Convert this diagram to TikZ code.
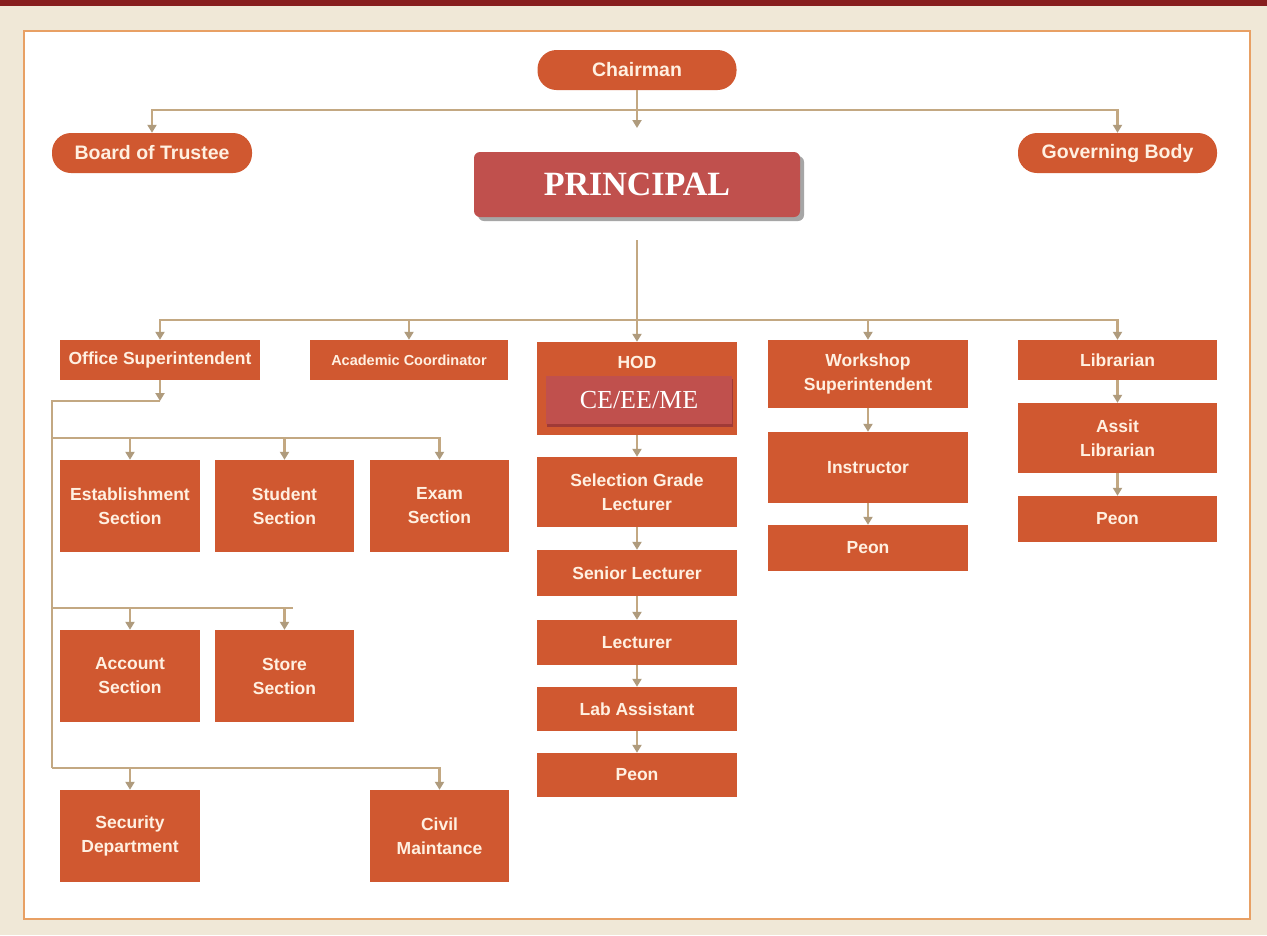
\documentclass[tikz,border=0pt]{standalone}
\usepackage{fontspec}
\setmainfont{Liberation Sans}
\newfontfamily\serifbf{Liberation Serif}
\usetikzlibrary{arrows.meta,shadows}
\definecolor{bgc}{RGB}{240,232,215}
\definecolor{topbar}{RGB}{135,30,30}
\definecolor{framec}{RGB}{232,160,100}
\definecolor{boxc}{RGB}{208,88,48}
\definecolor{txtc}{RGB}{255,240,225}
\definecolor{princ}{RGB}{192,80,77}
\definecolor{prinsh}{RGB}{160,58,55}
\definecolor{linec}{RGB}{195,168,130}
\definecolor{arrc}{RGB}{175,155,125}
\begin{document}
\begin{tikzpicture}[x=1pt,y=-1pt,
  box/.style={rectangle, fill=boxc, text=txtc, align=center, inner sep=0pt,
    font=\bfseries\fontsize{17.5}{24}\selectfont, minimum width=200pt},
  pill/.style={box, rounded corners=19pt, minimum height=40pt,
    font=\bfseries\fontsize{19.5}{22}\selectfont},
  conn/.style={draw=linec, line width=2.8pt},
  arr/.style={conn, -{Triangle[width=9pt,length=8pt,fill=arrc,color=arrc]}}
]
\useasboundingbox (0,0) rectangle (1267,935);
\fill[bgc] (0,0) rectangle (1267,935);
\fill[topbar] (0,0) rectangle (1267,6);
\draw[framec, line width=2.5pt, fill=white] (24,31) rectangle (1250,919);

% top level
\node[pill, minimum width=199pt] (chair) at (637,70) {Chairman};
\node[pill] (board) at (152,153) {Board of Trustee};
\node[pill, minimum width=199pt] (gov) at (1117.5,153) {Governing Body};
\node[rectangle, rounded corners=6pt, fill=princ, text=white, minimum width=326pt,
  minimum height=65pt, font=\serifbf\bfseries\fontsize{34}{36}\selectfont,
  drop shadow={shadow xshift=4pt, shadow yshift=-4pt, fill=gray!70, opacity=1}]
  (prin) at (637,184.5) {PRINCIPAL};

\coordinate (bus1) at (637,110);
\coordinate (pin) at (637,128);
\draw[conn] (chair.south) -- (bus1);
\draw[arr] (bus1) -| (board.north);
\draw[arr] (bus1) -| (gov.north);
\draw[arr] (bus1) -- (pin);

% second level
\node[box, minimum height=40pt] (os) at (160,360) {Office Superintendent};
\node[box, minimum width=198pt, minimum height=40pt,
  font=\bfseries\fontsize{14.5}{17}\selectfont] (ac) at (409,360) {Academic Coordinator};
\node[box, minimum height=93pt] (hod) at (637,388.5) {};
\node[text=txtc, font=\bfseries\fontsize{17.5}{20}\selectfont] (hodt) at (637,362) {HOD};
\node[rectangle, fill=princ, text=white, minimum width=186pt, minimum height=48pt,
  font=\serifbf\fontsize{26}{28}\selectfont,
  drop shadow={shadow xshift=1pt, shadow yshift=-3pt, fill=prinsh, opacity=1}]
  (ceee) at (639,400) {CE/EE/ME};
\node[box, minimum height=68pt] (ws) at (868,374) {Workshop\\Superintendent};
\node[box, minimum width=199pt, minimum height=40pt] (lib) at (1117.5,360) {Librarian};

\coordinate (bus2) at (637,320);
\coordinate (pout) at (637,240);
\draw[conn] (pout) -- (bus2);
\draw[arr] (bus2) -| (os.north);
\draw[arr] (bus2) -| (ac.north);
\draw[arr] (bus2) -- (hod.north);
\draw[arr] (bus2) -| (ws.north);
\draw[arr] (bus2) -| (lib.north);

% HOD column
\node[box, minimum height=70pt] (sgl) at (637,492) {Selection Grade\\Lecturer};
\node[box, minimum height=46pt] (sl) at (637,573) {Senior Lecturer};
\node[box, minimum height=45pt] (lec) at (637,642.5) {Lecturer};
\node[box, minimum height=44pt] (lab) at (637,709) {Lab Assistant};
\node[box, minimum height=44pt] (peon1) at (637,775) {Peon};
\draw[arr] (hod.south) -- (sgl.north);
\draw[arr] (sgl) -- (sl);
\draw[arr] (sl) -- (lec);
\draw[arr] (lec) -- (lab);
\draw[arr] (lab) -- (peon1);

% Workshop column
\node[box, minimum height=71pt] (ins) at (868,467.5) {Instructor};
\node[box, minimum height=46pt] (peon2) at (868,548) {Peon};
\draw[arr] (ws) -- (ins);
\draw[arr] (ins) -- (peon2);

% Library column
\node[box, minimum width=199pt, minimum height=70pt] (alib) at (1117.5,438) {Assit\\Librarian};
\node[box, minimum width=199pt, minimum height=46pt] (peon3) at (1117.5,519) {Peon};
\draw[arr] (lib) -- (alib);
\draw[arr] (alib) -- (peon3);

% Office sections
\node[box, minimum width=140pt, minimum height=92pt] (est) at (130,506) {Establishment\\Section};
\node[box, minimum width=139pt, minimum height=92pt] (stu) at (284.5,506) {Student\\Section};
\node[box, minimum width=139pt, minimum height=92pt] (exam) at (439.5,506) {Exam\\Section};
\node[box, minimum width=140pt, minimum height=92pt] (acc) at (130,676) {Account\\Section};
\node[box, minimum width=139pt, minimum height=92pt] (store) at (284.5,676) {Store\\Section};
\node[box, minimum width=140pt, minimum height=92pt] (sec) at (130,836) {Security\\Department};
\node[box, minimum width=139pt, minimum height=92pt] (civil) at (439.5,836) {Civil\\Maintance};

\coordinate (osj) at (160,401);
\coordinate (tr0) at (52,401);
\coordinate (tr1) at (52,438);
\coordinate (tr2) at (52,608);
\coordinate (tr3) at (52,768);
\coordinate (e1) at (440,438);
\coordinate (e2) at (293,608);
\draw[arr] (os.south) -- (osj);
\draw[conn] (osj) -- (tr0) -- (tr3);
\draw[conn] (tr1) -- (e1);
\draw[conn] (tr2) -- (e2);
\draw[arr] (tr1) -| (est.north);
\draw[arr] (tr1) -| (stu.north);
\draw[arr] (tr1) -| (exam.north);
\draw[arr] (tr2) -| (acc.north);
\draw[arr] (tr2) -| (store.north);
\draw[arr] (tr3) -| (sec.north);
\draw[arr] (tr3) -| (civil.north);
\end{tikzpicture}
\end{document}
